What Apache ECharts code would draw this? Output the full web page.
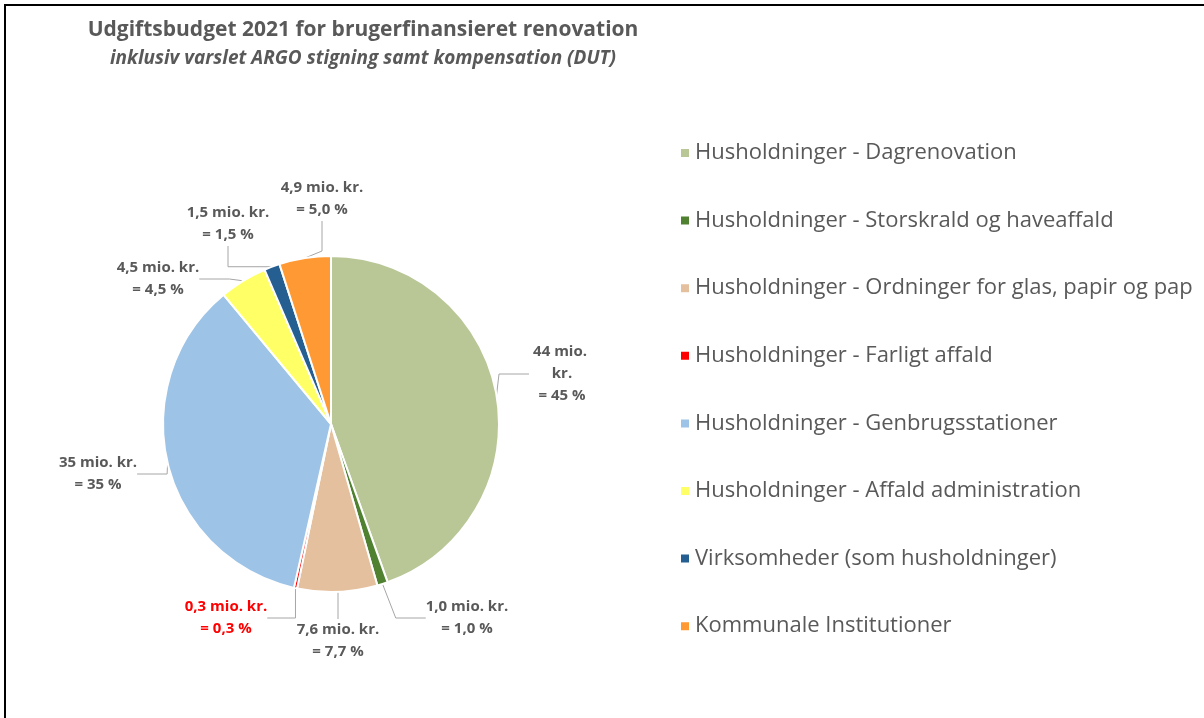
<!DOCTYPE html>
<html>
<head>
<meta charset="utf-8">
<script src="https://cdn.jsdelivr.net/npm/echarts@6/dist/echarts.min.js"></script>
<style>
  html, body { margin: 0; padding: 0; background: #fff; }
  #chart { width: 1204px; height: 718px; }
  /* cropped frame: only top and left edges are visible */
  #frame {
    position: absolute; left: 4px; top: 4px; width: 1200px; height: 714px;
    border-top: 2px solid #000; border-left: 2px solid #000; pointer-events: none;
  }
</style>
</head>
<body>
<div id="chart"></div>
<div id="frame"></div>
<script>
const categories = [
  "Husholdninger - Dagrenovation",
  "Husholdninger - Storskrald og haveaffald",
  "Husholdninger - Ordninger for glas, papir og pap",
  "Husholdninger - Farligt affald",
  "Husholdninger - Genbrugsstationer",
  "Husholdninger - Affald administration",
  "Virksomheder (som husholdninger)",
  "Kommunale Institutioner"
];
// mio. kr.
const values = [44, 1.0, 7.6, 0.3, 35, 4.5, 1.5, 4.9];
// percent shown in labels
const percents = [45, 1.0, 7.7, 0.3, 35, 4.5, 1.5, 5.0];
const colors = ["#B9C797", "#4F8130", "#E5C09E", "#FF0000", "#9DC3E6", "#FFFF66", "#255E91", "#FF9933"];

const fmt = v => (v >= 10 ? v.toFixed(0) : v.toFixed(1)).replace(".", ",");

// label anchor points (centre of each label block)
const labelPos = [
  [562, 374], [467, 618], [338, 641], [226, 618],
  [98, 474], [158, 279], [228, 224], [322, 199]
];

const chart = echarts.init(document.getElementById("chart"));
const font = "'Open Sans', sans-serif";

chart.setOption({
  animation: false,
  color: colors,
  title: {
    text: "Udgiftsbudget 2021 for brugerfinansieret renovation",
    subtext: "inklusiv varslet ARGO stigning samt kompensation (DUT)",
    left: 358,
    top: 15,
    textAlign: "center",
    itemGap: 8,
    textStyle: { fontFamily: font, fontSize: 21, fontWeight: "bold", color: "#595959" },
    subtextStyle: { fontFamily: font, fontSize: 19, fontStyle: "italic", fontWeight: "bold", color: "#595959" }
  },
  legend: {
    orient: "vertical",
    left: 674,
    top: 136,
    icon: "rect",
    itemWidth: 10,
    itemHeight: 10,
    itemGap: 43.6,
    textStyle: { fontFamily: font, fontSize: 22, lineHeight: 24, color: "#595959" },
    data: categories
  },
  series: [{
    type: "pie",
    center: [331, 424],
    radius: 168,
    startAngle: 90,
    clockwise: true,
    itemStyle: { borderColor: "#fff", borderWidth: 2 },
    label: {
      show: true,
      fontFamily: font,
      fontSize: 15,
      fontWeight: "bold",
      color: "#595959",
      lineHeight: 22,
      align: "center",
      formatter: p => fmt(values[p.dataIndex]) + " mio. kr.\n= " + fmt(percents[p.dataIndex]) + " %"
    },
    labelLine: { show: true, lineStyle: { color: "#A6A6A6", width: 1 } },
    labelLayout: p => ({
      x: labelPos[p.dataIndex][0],
      y: labelPos[p.dataIndex][1],
      align: "center",
      verticalAlign: "middle"
    }),
    emphasis: { disabled: true },
    data: categories.map((name, i) => {
      const d = { name: name, value: values[i] };
      if (i === 0) d.label = { width: 66, overflow: "break" };
      if (i === 3) d.label = { color: "#FF0000" };
      return d;
    })
  }]
});
</script>
</body>
</html>
